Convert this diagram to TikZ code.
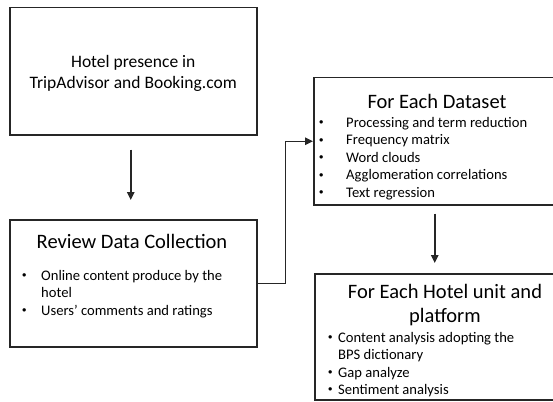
\documentclass[tikz,border=0pt]{standalone}
\usepackage{fontspec}
\setmainfont{Carlito}
\newfontfamily\pktfont{Liberation Sans}
\usepackage{tikz}
\usetikzlibrary{arrows.meta}
\usetikzlibrary{positioning}
\newcommand{\pkt}[1]{\makebox[#1][l]{\pktfont\fontsize{12.5}{12}\selectfont\raisebox{0.5pt}{•}}}
\tikzset{
  box/.style={draw=black!85,line width=1.5pt,anchor=north west,inner sep=0pt},
  pfeil/.style={draw=black!85,line width=1.5pt,-{Triangle[length=8pt,width=7.5pt]}},
  titel/.style={anchor=base,inner sep=0pt,font=\fontsize{20.5}{24}\selectfont},
  punkt/.style={anchor=base west,inner sep=0pt,font=\fontsize{14.6}{17.5}\selectfont}
}

\begin{document}
\begin{tikzpicture}[x=1pt,y=-1pt]
  \useasboundingbox (0,0) rectangle (553,401);
  % Kaesten
  \node[box,minimum width=247pt,minimum height=127pt] (hotel) at (9,7) {};
  \node[box,minimum width=247pt,minimum height=127pt] (review) at (9,219) {};
  \node[box,minimum width=290pt,minimum height=127pt] (dataset) at (313,77) {};
  \node[box,minimum width=290pt,minimum height=126pt] (unit) at (314,273) {};
  % Titel
  \node[align=center,font=\fontsize{17.5}{21}\selectfont] (hoteltext) at ([yshift=-2pt]hotel.center) {Hotel presence in\\TripAdvisor and Booking.com};
  \node[titel] (reviewtitel) at (132,248) {Review Data Collection};
  \node[titel] (datasettitel) at (437,108) {For Each Dataset};
  \node[titel] (unittitel) at (445,298) {For Each Hotel unit and};
  \node[titel] (unittitelb) at (445,322) {platform};
  % Aufzaehlungen
  \node[punkt] (review-1) at (22,280) {\pkt{19pt}Online content produce by the};
  \node[punkt] (review-2) at (41,297) {hotel};
  \node[punkt] (review-3) at (22,315) {\pkt{19pt}Users’ comments and ratings};
  \foreach \y/\t [count=\i] in {127/Processing and term reduction,144.5/Frequency matrix,162/Word clouds,179.5/Agglomeration correlations,197/Text regression}
    \node[punkt] (dataset-\i) at (319,\y) {\pkt{27pt}\t};
  \node[punkt] (unit-1) at (328,342) {\pkt{10pt}Content analysis adopting the};
  \node[punkt] (unit-2) at (338,359) {BPS dictionary};
  \node[punkt] (unit-3) at (328,377) {\pkt{10pt}Gap analyze};
  \node[punkt] (unit-4) at (328,394) {\pkt{10pt}Sentiment analysis};
  % Pfeile
  \draw[pfeil] ([xshift=-2.5pt,yshift=-14pt]hotel.south) -- ([xshift=-2.5pt,yshift=19pt]review.north);
  \draw[pfeil] (review.east) -- ++(28,0) |- (dataset.west);
  \draw[pfeil] ([xshift=-24pt,yshift=-8pt]dataset.south) -- ([xshift=-24pt,yshift=10pt]dataset.south |- unit.north);
\end{tikzpicture}
\end{document}
